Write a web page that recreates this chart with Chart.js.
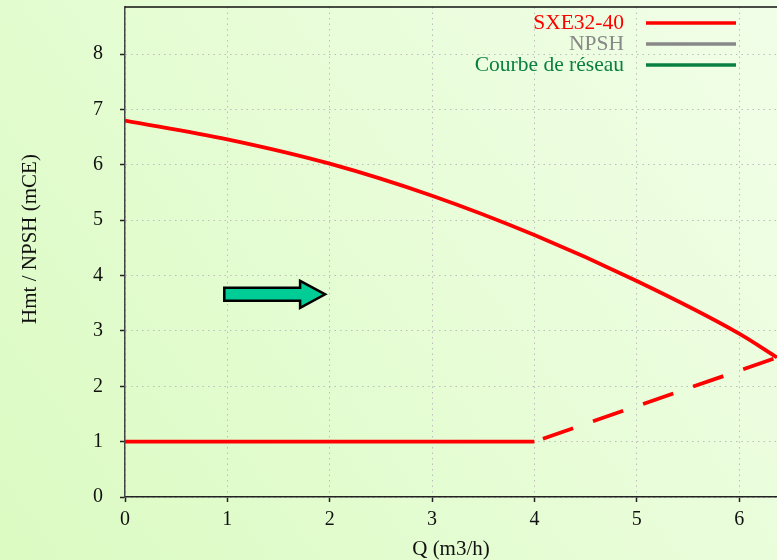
<!DOCTYPE html>
<html>
<head>
<meta charset="utf-8">
<script src="https://cdn.jsdelivr.net/npm/chart.js@4.4.1/dist/chart.umd.min.js"></script>
<style>
  html, body { margin: 0; padding: 0; background: #e8fdd6; }
  canvas { display: block; }
</style>
</head>
<body>
<canvas id="pumpChart" width="777" height="560"></canvas>
<script>
// Pump curve (Q in m3/h, Hmt in mCE)
const flowQ = [0, 1, 2, 3, 4, 5, 6, 6.37];
const hmtPump = [6.8, 6.46, 6.02, 5.44, 4.73, 3.9, 2.95, 2.52];

// Static head, then network curve up to the operating point
const staticQ = [0, 4];
const staticH = [1, 1];
const reseauQ = [4, 6.37];
const reseauH = [1, 2.52];

// Axis ticks
const xTicks = [0, 1, 2, 3, 4, 5, 6];
const yTicks = [0, 1, 2, 3, 4, 5, 6, 7, 8];

// Legend
const legendLabels = ['SXE32-40', 'NPSH', 'Courbe de réseau'];
const legendColors = ['#ff0000', '#888888', '#0a8040'];

// Flow arrow (start/end Q, height)
const arrowQ = [0.97, 1.955];
const arrowH = 3.66;

const serif = '"Liberation Serif", "DejaVu Serif", serif';

function toPoints(xs, ys) {
    return xs.map((x, i) => ({ x: x, y: ys[i] }));
}

// Background gradient, top frame, legend, titles and arrow
const decorPlugin = {
    id: 'decor',
    beforeDraw(chart) {
        const ctx = chart.ctx;
        const g = ctx.createLinearGradient(0, chart.height, chart.width, 0);
        g.addColorStop(0, '#dbfbc2');
        g.addColorStop(1, '#f1fee8');
        ctx.save();
        ctx.fillStyle = g;
        ctx.fillRect(0, 0, chart.width, chart.height);
        ctx.restore();
    },
    afterDraw(chart) {
        const ctx = chart.ctx;
        const area = chart.chartArea;
        const xs = chart.scales.x;
        const ys = chart.scales.y;
        ctx.save();

        // top frame line
        ctx.strokeStyle = '#111';
        ctx.lineWidth = 1.5;
        ctx.beginPath();
        ctx.moveTo(area.left, area.top);
        ctx.lineTo(area.right, area.top);
        ctx.stroke();

        // legend
        ctx.font = '21.5px ' + serif;
        ctx.textAlign = 'right';
        ctx.textBaseline = 'middle';
        legendLabels.forEach((label, i) => {
            const y = 23 + i * 21;
            ctx.fillStyle = legendColors[i];
            ctx.fillText(label, 624, y);
            ctx.strokeStyle = legendColors[i];
            ctx.lineWidth = 3.5;
            ctx.beginPath();
            ctx.moveTo(646, y);
            ctx.lineTo(736, y);
            ctx.stroke();
        });

        // axis titles
        ctx.font = '21px ' + serif;
        ctx.fillStyle = '#111';
        ctx.textAlign = 'center';
        ctx.fillText('Q (m3/h)', (area.left + area.right) / 2, 549);
        ctx.translate(30, 239);
        ctx.rotate(-Math.PI / 2);
        ctx.fillText('Hmt / NPSH (mCE)', 0, 0);
        ctx.restore();

        // arrow
        ctx.save();
        const x0 = xs.getPixelForValue(arrowQ[0]);
        const x1 = xs.getPixelForValue(arrowQ[1]);
        const yc = ys.getPixelForValue(arrowH);
        const hx = x1 - 25;
        ctx.beginPath();
        ctx.moveTo(x0, yc - 6.5);
        ctx.lineTo(hx, yc - 6.5);
        ctx.lineTo(hx, yc - 13.5);
        ctx.lineTo(x1, yc);
        ctx.lineTo(hx, yc + 13.5);
        ctx.lineTo(hx, yc + 6.5);
        ctx.lineTo(x0, yc + 6.5);
        ctx.closePath();
        ctx.fillStyle = '#00cc96';
        ctx.fill();
        ctx.lineWidth = 2.5;
        ctx.lineJoin = 'miter';
        ctx.strokeStyle = '#000';
        ctx.stroke();
        ctx.restore();
    }
};

const ctx = document.getElementById('pumpChart').getContext('2d');
new Chart(ctx, {
    type: 'line',
    data: {
        datasets: [
            {
                label: legendLabels[0],
                data: toPoints(flowQ, hmtPump),
                borderColor: '#ff0000',
                borderWidth: 3.8,
                pointRadius: 0,
                cubicInterpolationMode: 'monotone'
            },
            {
                label: 'statique',
                data: toPoints(staticQ, staticH),
                borderColor: '#ff0000',
                borderWidth: 3.8,
                pointRadius: 0
            },
            {
                label: 'réseau',
                data: toPoints(reseauQ, reseauH),
                borderColor: '#ff0000',
                borderWidth: 3.8,
                borderDash: [32, 21],
                borderDashOffset: 44,
                pointRadius: 0
            }
        ]
    },
    options: {
        responsive: false,
        animation: false,
        layout: { padding: { top: 7, right: 0, left: 0, bottom: 0 } },
        plugins: {
            legend: { display: false },
            tooltip: { enabled: false }
        },
        scales: {
            x: {
                type: 'linear',
                min: 0,
                max: 6.37,
                afterBuildTicks: scale => { scale.ticks = xTicks.map(v => ({ value: v })); },
                afterFit: scale => { scale.height = 63; },
                grid: {
                    color: '#bdbdbd',
                    tickLength: 5,
                    tickColor: '#222',
                    tickBorderDash: [],
                    tickWidth: 1.5
                },
                border: { color: '#222', width: 1.5, dash: [1.5, 4] },
                ticks: {
                    color: '#111',
                    font: { family: serif, size: 20 },
                    padding: 6,
                    maxRotation: 0
                }
            },
            y: {
                type: 'linear',
                min: 0,
                max: 8.85,
                afterBuildTicks: scale => { scale.ticks = yTicks.map(v => ({ value: v })); },
                afterFit: scale => {
                    scale.width = 125;
                    scale.paddingTop = 0;
                    scale.paddingBottom = 0;
                },
                grid: {
                    color: '#bdbdbd',
                    tickLength: 5,
                    tickColor: '#222',
                    tickBorderDash: [],
                    tickWidth: 1.5
                },
                border: { color: '#444', width: 1.5, dash: [1.5, 4] },
                ticks: {
                    color: '#111',
                    font: { family: serif, size: 20 },
                    padding: 17
                }
            }
        }
    },
    plugins: [decorPlugin]
});
</script>
</body>
</html>
